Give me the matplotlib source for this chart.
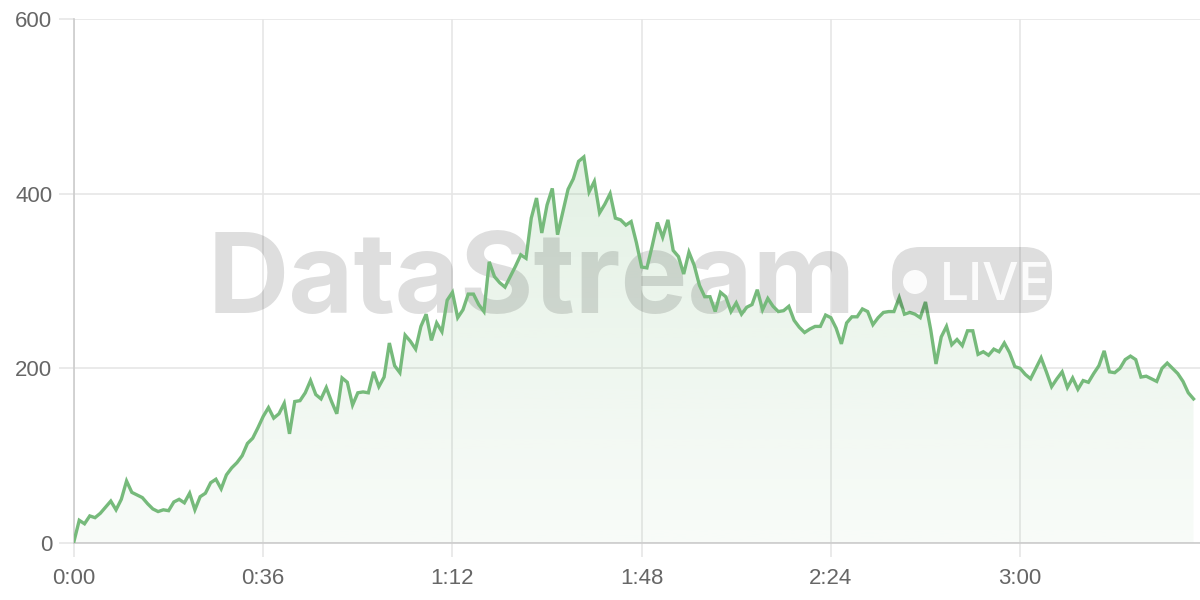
import matplotlib
matplotlib.use("Agg")
import matplotlib.pyplot as plt
import numpy as np
from matplotlib.patches import FancyBboxPatch, Circle
from matplotlib.transforms import IdentityTransform

# one sample per second, 0:00 .. 3:33
values = [
    2, 26, 22, 31, 29, 34, 41, 48, 38, 50,
    71, 58, 55, 52, 45, 39, 36, 38, 37, 47,
    50, 46, 57, 38, 53, 57, 69, 73, 62, 78,
    86, 92, 100, 114, 120, 132, 145, 155, 143, 148,
    160, 125, 162, 163, 172, 186, 170, 165, 178, 162,
    148, 189, 184, 158, 172, 173, 172, 196, 179, 190,
    229, 203, 195, 238, 231, 222, 248, 262, 232, 252,
    242, 278, 287, 258, 267, 285, 285, 273, 265, 322,
    305, 298, 293, 305, 317, 330, 326, 372, 395, 355,
    387, 406, 353, 379, 405, 417, 437, 442, 402, 414,
    378, 388, 400, 372, 370, 364, 368, 344, 316, 315,
    340, 367, 350, 370, 335, 328, 308, 333, 318, 295,
    282, 282, 265, 287, 282, 265, 275, 262, 270, 273,
    290, 267, 280, 271, 265, 266, 271, 255, 247, 241,
    245, 248, 248, 261, 258, 246, 228, 252, 259, 259,
    268, 265, 250, 258, 264, 265, 265, 281, 262, 264,
    262, 258, 276, 244, 205, 236, 248, 227, 233, 226,
    243, 243, 216, 219, 215, 222, 219, 229, 218, 202,
    200, 193, 188, 200, 212, 196, 179, 188, 196, 178,
    189, 176, 186, 184, 194, 203, 220, 196, 195, 200,
    210, 214, 210, 190, 191, 188, 185, 200, 206, 200,
    194, 185, 172, 165,
]
seconds = np.arange(len(values))
tick_pos = [0, 36, 72, 108, 144, 180]
tick_labels = ["0:00", "0:36", "1:12", "1:48", "2:24", "3:00"]
y_ticks = [0, 200, 400, 600]

GREEN = "#76ba7b"
GRID = "#e6e6e6"
TEXT = "#666666"

plt.rcParams["font.family"] = ["Liberation Sans", "DejaVu Sans"]

fig = plt.figure(figsize=(12, 6), dpi=100)
ax = fig.add_axes([74 / 1200, 57 / 600, 1126 / 1200, 524 / 600])
ax.set_xlim(0, 1126 / 5.256)
ax.set_ylim(0, 600)

# gradient area under the line
fill = ax.fill_between(seconds, values, 0, color="none", lw=0)
grad = np.zeros((256, 1, 4))
grad[:, 0, :3] = matplotlib.colors.to_rgb(GREEN)
grad[:, 0, 3] = np.linspace(0.05, 0.2, 256)
img = ax.imshow(grad, extent=[0, seconds[-1], 0, max(values)], origin="lower",
                aspect="auto", zorder=1)
img.set_clip_path(fill.get_paths()[0], transform=ax.transData)

ax.plot(seconds, values, color=GREEN, lw=2.4, zorder=4, solid_joinstyle="miter")

ax.set_xticks(tick_pos, tick_labels)
ax.set_yticks(y_ticks)
ax.grid(True, color=GRID, lw=1.2, zorder=0)
ax.set_axisbelow(True)
for side in ("top", "right"):
    ax.spines[side].set_visible(False)
for side in ("left", "bottom"):
    ax.spines[side].set_color("#cccccc")
    ax.spines[side].set_linewidth(1.2)
ax.tick_params(axis="y", length=11, width=1.2, color=GRID, pad=4.5,
               labelsize=16, labelcolor=TEXT)
ax.tick_params(axis="x", length=10, width=1.2, color=GRID, pad=8,
               labelsize=16, labelcolor=TEXT)

# watermark
ax.text(0.1190, 0.439, "DataStream", transform=ax.transAxes, fontsize=81,
        fontfamily="Inter", fontweight="bold", color="black", alpha=0.13,
        ha="left", va="baseline", zorder=3)
badge = FancyBboxPatch((892, 287), 160, 66,
                       boxstyle="round,pad=0,rounding_size=28",
                       transform=IdentityTransform(), facecolor="black",
                       alpha=0.13, edgecolor="none", zorder=3)
fig.add_artist(badge)
fig.add_artist(Circle((915, 318), 12, transform=IdentityTransform(),
                      facecolor="white", alpha=0.9, edgecolor="none", zorder=4))
fig.text(940 / 1200, 300 / 600, "LIVE", fontsize=37, fontfamily="Inter",
         fontweight="medium", color="white", alpha=0.9,
         ha="left", va="baseline", zorder=4)

fig.savefig("out.png", dpi=100)
